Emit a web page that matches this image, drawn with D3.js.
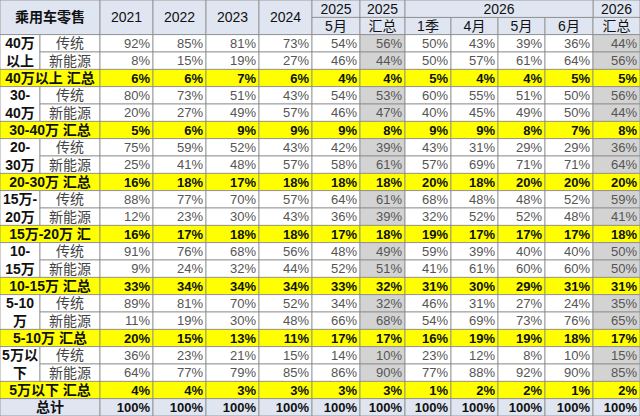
<!DOCTYPE html>
<html><head><meta charset="utf-8">
<script src="https://cdn.jsdelivr.net/npm/d3@7"></script>
<style>body{margin:0;background:#fff}svg{display:block}</style>
</head><body><svg id="c" width="640" height="416"></svg>
<script>
const columns = ["2021","2022","2023","2024","2025|5月","2025|汇总","1季","4月","5月","6月","2026|汇总"];
const groups = ["40万|以上","30-|40万","20-|30万","15万-|20万","10-|15万","5-10|万","5万以|下"];
const summaryLabels = ["40万以上 汇总","30-40万 汇总","20-30万 汇总","15万-20万 汇","10-15万 汇总","5-10万 汇总","5万以下 汇总"];
const types = ["传统","新能源"];
const traditional = [
 [92,85,81,73,54,56,50,43,39,36,44],
 [80,73,51,43,54,53,60,55,51,50,56],
 [75,59,52,43,42,39,43,31,29,29,36],
 [88,77,70,57,64,61,68,48,48,52,59],
 [91,76,68,56,48,49,59,39,40,40,50],
 [89,81,70,52,34,32,46,31,27,24,35],
 [36,23,21,15,14,10,23,12,8,10,15]];
const newEnergy = [
 [8,15,19,27,46,44,50,57,61,64,56],
 [20,27,49,57,46,47,40,45,49,50,44],
 [25,41,48,57,58,61,57,69,71,71,64],
 [12,23,30,43,36,39,32,52,52,48,41],
 [9,24,32,44,52,51,41,61,60,60,50],
 [11,19,30,48,66,68,54,69,73,76,65],
 [64,77,79,85,86,90,77,88,92,90,85]];
const summary = [
 [6,6,7,6,4,4,5,4,4,5,5],
 [5,6,9,9,9,8,9,9,8,7,8],
 [16,18,17,18,18,18,20,18,20,20,20],
 [16,17,18,18,17,18,19,17,17,17,18],
 [33,34,34,34,33,32,31,30,29,31,31],
 [20,15,13,11,17,17,16,19,19,18,17],
 [4,4,3,3,3,3,1,2,2,1,2]];
const total = [100,100,100,100,100,100,100,100,100,100,100];

const svg = d3.select("#c");
const W=640,H=416;
const edges=[0,40,100,153,206,259,312,360,405,451,498,545,593,640];
const colX = i => edges[i+2], colW = i => edges[i+3]-edges[i+2];
const rows = d3.range(24);
const y = d3.scaleBand().domain(rows).range([0,H]);
const rh = y.bandwidth();
const F = "'Liberation Sans','Noto Sans CJK SC',sans-serif";
const hdrBg="#dfe5f1", yel="#ffff00", grey="#d3d3d3";
const g = svg.append("g").style("font-family",F);
function rect(x,yy,w,h,fill){g.append("rect").attr("x",x).attr("y",yy).attr("width",w).attr("height",h).attr("fill",fill).attr("stroke","#8a8a8a").attr("stroke-width",0.8);}
function text(x,yy,t,o={}){g.append("text").attr("x",x).attr("y",yy).text(t).attr("text-anchor",o.a||"middle").attr("dominant-baseline","central").attr("font-size",o.s||13).attr("font-weight",o.b?"bold":"normal").attr("fill",o.c||"#111");}
rect(0,0,100,rh*2,hdrBg); text(50,rh,"乘用车零售",{s:14,b:true});
columns.forEach((c,i)=>{
  const parts=c.split("|");
  if(i<4){rect(colX(i),0,colW(i),rh*2,hdrBg);text(colX(i)+colW(i)/2,rh,c,{s:14});}
  else if(i==4||i==5||i==10){rect(colX(i),0,colW(i),rh,hdrBg);rect(colX(i),rh,colW(i),rh,hdrBg);
    text(colX(i)+colW(i)/2,rh/2,parts[0],{s:14});text(colX(i)+colW(i)/2,rh*1.5,parts[1],{s:14});}
  else {rect(colX(i),rh,colW(i),rh,hdrBg);text(colX(i)+colW(i)/2,rh*1.5,c,{s:14});}
});
rect(colX(6),0,edges[12]-colX(6),rh,hdrBg);text((colX(6)+edges[12])/2,rh/2,"2026",{s:14});
function vals(r,arr,kind){
  arr.forEach((v,i)=>{
    let fill = kind==="sum"?yel:kind==="tot"?hdrBg:((i==5||i==10)?grey:"#fff");
    rect(colX(i),y(r),colW(i),rh,fill);
    text(colX(i)+colW(i)-3,y(r)+rh/2,v+"%",{a:"end",b:kind!=="data",c:kind==="data"?"#555":"#111"});
  });
}
groups.forEach((gname,k)=>{
  const r0=2+k*3;
  rect(0,y(r0),40,rh*2,"#fff");
  const p=gname.split("|");
  text(20,y(r0)+rh*0.5,p[0],{s:14,b:true});text(20,y(r0)+rh*1.5,p[1],{s:14,b:true});
  [traditional[k],newEnergy[k]].forEach((arr,t)=>{
    rect(40,y(r0+t),60,rh,"#fff");text(70,y(r0+t)+rh/2,types[t],{s:14,c:"#444"});
    vals(r0+t,arr,"data");
  });
  rect(0,y(r0+2),100,rh,yel);text(50,y(r0+2)+rh/2,summaryLabels[k],{s:14,b:true});
  vals(r0+2,summary[k],"sum");
});
rect(0,y(23),100,rh,hdrBg);text(50,y(23)+rh/2,"总计",{s:14,b:true});
vals(23,total,"tot");
</script></body></html>
